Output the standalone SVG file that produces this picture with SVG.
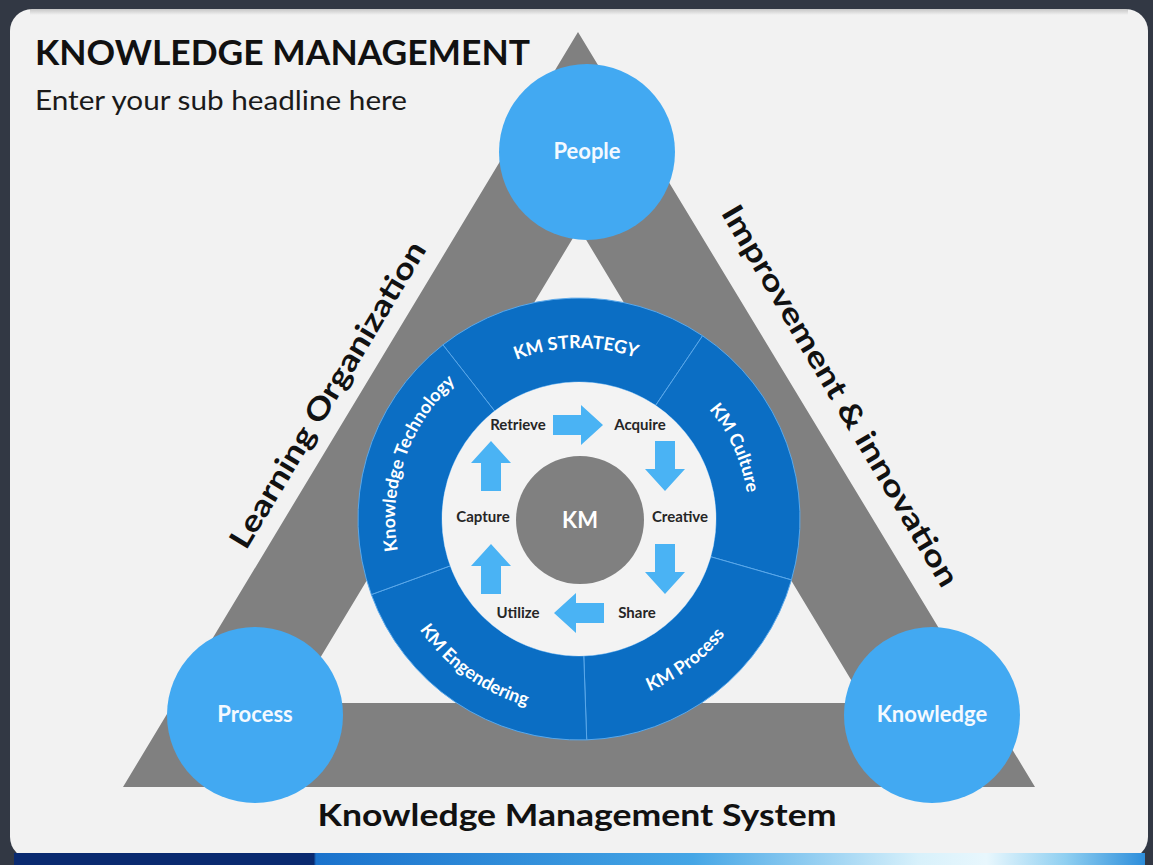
<svg xmlns="http://www.w3.org/2000/svg" xmlns:xlink="http://www.w3.org/1999/xlink" width="1153" height="865" viewBox="0 0 1153 865">
<style>
.t{font-family:Lato,"Open Sans","Liberation Sans",sans-serif}
.title{font-size:35px;font-weight:700;fill:#111}
.sub{font-size:26px;font-weight:400;fill:#1a1a1a}
.side{font-size:30px;font-weight:700;fill:#111}
.cl{font-size:22px;font-weight:700;fill:#f4f9ff;text-anchor:middle}
.rl{font-size:18px;font-weight:700;fill:#ffffff;text-anchor:middle}
.il{font-size:15px;font-weight:700;fill:#262626;text-anchor:middle}
.seg{fill:#0b6ec4;stroke:#5aa8ea;stroke-width:1}
.circ{fill:#42a9f2}
.arr{fill:#4ab3f4}
</style>
<defs>
<linearGradient id="bar" x1="0" y1="0" x2="1" y2="0">
<stop offset="0" stop-color="#0a2a70"/>
<stop offset="0.265" stop-color="#0a2a70"/>
<stop offset="0.267" stop-color="#1a72cc"/>
<stop offset="0.6" stop-color="#45a6e6"/>
<stop offset="0.8" stop-color="#d8f1fb"/>
<stop offset="0.86" stop-color="#e8f7fd"/>
<stop offset="0.93" stop-color="#8fcff1"/>
<stop offset="1" stop-color="#2d8edb"/>
</linearGradient>
<linearGradient id="topshade" x1="0" y1="0" x2="0" y2="1">
<stop offset="0" stop-color="#9a9a9a"/>
<stop offset="1" stop-color="#f2f2f2"/>
</linearGradient>
<path id="arrow" d="M-25 -10 H3 V-20 L25 0 L3 20 V10 H-25 Z"/>
<path id="pStrategy" d="M466.81 389.95 A171 171 0 0 1 686.61 386.11"/>
<path id="pCulture" d="M652.19 365.56 A170 170 0 0 1 742.81 564.43"/>
<path id="pProcess" d="M569.27 704.75 A186 186 0 0 0 760.23 560.85"/>
<path id="pEngender" d="M391.19 567.58 A194 194 0 0 0 594.23 712.40"/>
<path id="pTech" d="M407.22 584.95 A184 184 0 0 1 484.24 361.28"/>
</defs>

<g id="background">
<rect x="0" y="0" width="1153" height="865" fill="#323844"/>
<rect x="10" y="9" width="1138" height="850" rx="22" fill="#f2f2f2"/>
<rect x="30" y="9" width="1098" height="6" fill="url(#topshade)" opacity="0.5"/>
<rect x="14" y="853" width="1131" height="12" fill="url(#bar)"/>
</g>

<g id="title">
<text class="t title" x="35" y="65" textLength="495" lengthAdjust="spacingAndGlyphs">KNOWLEDGE MANAGEMENT</text>
<text class="t sub" x="35" y="110" textLength="372" lengthAdjust="spacingAndGlyphs">Enter your sub headline here</text>
</g>

<g id="triangle">
<path d="M578 32 L1035 787 L123 787 Z M579 228 L293 703 L865 703 Z" fill="#808080" fill-rule="evenodd"/>
</g>

<g id="side-labels">
<text class="t side" transform="translate(328 395) rotate(-59)" x="0" y="10" text-anchor="middle" textLength="352" lengthAdjust="spacingAndGlyphs">Learning Organization</text>
<text class="t side" transform="translate(840 396) rotate(59.5)" x="0" y="10" text-anchor="middle" textLength="437" lengthAdjust="spacingAndGlyphs">Improvement &amp; innovation</text>
<text class="t side" x="577" y="826" text-anchor="middle" textLength="519" lengthAdjust="spacingAndGlyphs" style="font-size:31px">Knowledge Management System</text>
</g>

<g id="node-people">
<circle class="circ" cx="587" cy="152" r="88"/>
<text class="t cl" x="587" y="159">People</text>
</g>
<g id="node-process">
<circle class="circ" cx="255" cy="715" r="88"/>
<text class="t cl" x="255" y="722">Process</text>
</g>
<g id="node-knowledge">
<circle class="circ" cx="932" cy="715" r="88"/>
<text class="t cl" x="932" y="722">Knowledge</text>
</g>

<g id="seg-strategy">
<path class="seg" d="M442.93 344.85 A221 221 0 0 1 702.58 335.79 L655.61 405.43 A137 137 0 0 0 494.65 411.04 Z"/>
<text class="t rl"><textPath xlink:href="#pStrategy" href="#pStrategy" startOffset="50%">KM STRATEGY</textPath></text>
</g>
<g id="seg-culture">
<path class="seg" d="M702.58 335.79 A221 221 0 0 1 791.45 579.91 L710.70 556.76 A137 137 0 0 0 655.61 405.43 Z"/>
<text class="t rl"><textPath xlink:href="#pCulture" href="#pCulture" startOffset="50%">KM Culture</textPath></text>
</g>
<g id="seg-process">
<path class="seg" d="M791.45 579.91 A221 221 0 0 1 586.71 739.87 L583.78 655.92 A137 137 0 0 0 710.70 556.76 Z"/>
<text class="t rl"><textPath xlink:href="#pProcess" href="#pProcess" startOffset="50%">KM Process</textPath></text>
</g>
<g id="seg-engendering">
<path class="seg" d="M586.71 739.87 A221 221 0 0 1 371.33 594.58 L450.26 565.85 A137 137 0 0 0 583.78 655.92 Z"/>
<text class="t rl"><textPath xlink:href="#pEngender" href="#pEngender" startOffset="50%">KM Engendering</textPath></text>
</g>
<g id="seg-technology">
<path class="seg" d="M371.33 594.58 A221 221 0 0 1 442.93 344.85 L494.65 411.04 A137 137 0 0 0 450.26 565.85 Z"/>
<text class="t rl"><textPath xlink:href="#pTech" href="#pTech" startOffset="50%">Knowledge Technology</textPath></text>
</g>

<g id="inner-disk">
<circle cx="579" cy="519" r="137" fill="#f3f3f3"/>
</g>

<g id="node-km">
<circle cx="580" cy="520" r="64" fill="#808080"/>
<text class="t" x="580" y="528" text-anchor="middle" style="font-size:22px;font-weight:700;fill:#fff">KM</text>
</g>

<g id="node-retrieve"><text class="t il" x="518" y="430">Retrieve</text></g>
<g id="node-acquire"><text class="t il" x="640" y="430">Acquire</text></g>
<g id="node-creative"><text class="t il" x="680" y="522">Creative</text></g>
<g id="node-share"><text class="t il" x="637" y="618">Share</text></g>
<g id="node-utilize"><text class="t il" x="518" y="618">Utilize</text></g>
<g id="node-capture"><text class="t il" x="483" y="522">Capture</text></g>

<g id="connectors">
<use href="#arrow" xlink:href="#arrow" class="arr" transform="translate(578 425)"/>
<use href="#arrow" xlink:href="#arrow" class="arr" transform="translate(665 466) rotate(90)"/>
<use href="#arrow" xlink:href="#arrow" class="arr" transform="translate(665 569) rotate(90)"/>
<use href="#arrow" xlink:href="#arrow" class="arr" transform="translate(579 613) rotate(180)"/>
<use href="#arrow" xlink:href="#arrow" class="arr" transform="translate(491 569) rotate(-90)"/>
<use href="#arrow" xlink:href="#arrow" class="arr" transform="translate(491 466) rotate(-90)"/>
</g>
</svg>
